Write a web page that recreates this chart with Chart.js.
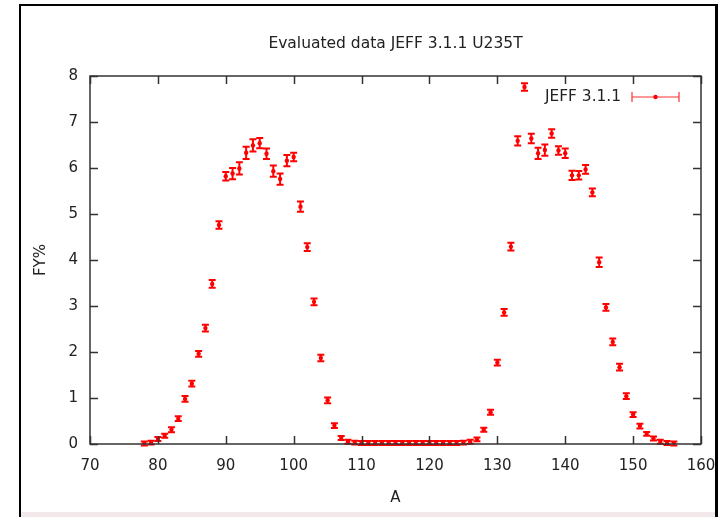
<!DOCTYPE html>
<html>
<head>
<meta charset="utf-8">
<script src="https://cdn.jsdelivr.net/npm/chart.js@4"></script>
<style>
  html, body { margin: 0; padding: 0; background: #ffffff; }
  #wrap { position: relative; width: 724px; height: 517px; overflow: hidden; }
  #frame { position: absolute; left: 19px; top: 4px; width: 694px; height: 520px;
           border-left: 2px solid #000; border-top: 2px solid #000; border-right: 3px solid #000; }
  #band { position: absolute; left: 21px; top: 512px; width: 694px; height: 6px; background: #f4e9ea; }
  canvas { position: absolute; left: 0; top: 0; }
</style>
</head>
<body>
<div id="wrap">
  <canvas id="c" width="724" height="517"></canvas>
  <div id="band"></div>
  <div id="frame"></div>
</div>
<script>
// Mass number A
const massNumbers = [78,79,80,81,82,83,84,85,86,87,88,89,90,91,92,93,94,95,96,97,98,99,100,101,102,103,104,105,106,107,108,109,110,111,112,113,114,115,116,117,118,119,120,121,122,123,124,125,126,127,128,129,130,131,132,133,134,135,136,137,138,139,140,141,142,143,144,145,146,147,148,149,150,151,152,153,154,155,156];
// Fission yield FY% (JEFF 3.1.1, U235 thermal)
const fissionYield = [0.01,0.03,0.11,0.18,0.31,0.55,0.98,1.31,1.96,2.52,3.48,4.76,5.82,5.88,5.99,6.33,6.49,6.54,6.31,5.93,5.76,6.16,6.24,5.16,4.28,3.09,1.87,0.95,0.40,0.13,0.05,0.03,0.02,0.02,0.02,0.02,0.02,0.02,0.02,0.02,0.02,0.02,0.02,0.02,0.02,0.02,0.02,0.03,0.05,0.10,0.31,0.69,1.77,2.86,4.29,6.59,7.76,6.64,6.32,6.39,6.75,6.38,6.32,5.84,5.84,5.97,5.47,3.95,2.97,2.22,1.67,1.04,0.64,0.39,0.22,0.12,0.05,0.02,0.01];
// Uncertainty (absolute, FY%)
const yieldError = [0.01,0.01,0.01,0.01,0.02,0.02,0.03,0.03,0.03,0.04,0.05,0.05,0.06,0.09,0.10,0.10,0.10,0.08,0.08,0.09,0.09,0.09,0.06,0.08,0.05,0.04,0.04,0.03,0.02,0.01,0.01,0.01,0.01,0.01,0.01,0.01,0.01,0.01,0.01,0.01,0.01,0.01,0.01,0.01,0.01,0.01,0.01,0.01,0.01,0.01,0.01,0.02,0.03,0.04,0.05,0.07,0.05,0.07,0.09,0.09,0.06,0.06,0.07,0.07,0.06,0.06,0.05,0.07,0.04,0.04,0.04,0.03,0.02,0.02,0.01,0.01,0.01,0.01,0.01];
const xTicks = [70,80,90,100,110,120,130,140,150,160];
const yTicks = [0,1,2,3,4,5,6,7,8];
const titleText = 'Evaluated data JEFF 3.1.1 U235T';
const legendText = 'JEFF 3.1.1';

const RED = '#ff0000';
const FONT = "'DejaVu Sans', sans-serif";

const points = massNumbers.map((a, i) => ({ x: a, y: fissionYield[i] }));

const errorBars = {
  id: 'errorBars',
  afterDatasetsDraw(chart) {
    const { ctx, scales: { x, y } } = chart;
    ctx.save();
    ctx.strokeStyle = RED;
    ctx.lineWidth = 2;
    massNumbers.forEach((a, i) => {
      const px = x.getPixelForValue(a);
      const top = y.getPixelForValue(fissionYield[i] + yieldError[i]) - 1.5;
      const bot = y.getPixelForValue(fissionYield[i] - yieldError[i]) + 1.5;
      ctx.beginPath();
      ctx.moveTo(px, top); ctx.lineTo(px, bot);
      ctx.moveTo(px - 3.5, top); ctx.lineTo(px + 3.5, top);
      ctx.moveTo(px - 3.5, bot); ctx.lineTo(px + 3.5, bot);
      ctx.stroke();
    });
    ctx.restore();
  }
};

const frameAndTicks = {
  id: 'frameAndTicks',
  afterDraw(chart) {
    const { ctx, chartArea: ca, scales: { x, y } } = chart;
    ctx.save();
    ctx.strokeStyle = '#333333';
    ctx.lineWidth = 1.5;
    ctx.strokeRect(ca.left, ca.top, ca.right - ca.left, ca.bottom - ca.top);
    ctx.beginPath();
    const L = 8;
    xTicks.forEach(v => {
      const px = Math.round(x.getPixelForValue(v)) + 0.5;
      ctx.moveTo(px, ca.bottom); ctx.lineTo(px, ca.bottom - L);
      ctx.moveTo(px, ca.top); ctx.lineTo(px, ca.top + L);
    });
    yTicks.forEach(v => {
      const py = Math.round(y.getPixelForValue(v)) + 0.5;
      ctx.moveTo(ca.left, py); ctx.lineTo(ca.left + L, py);
      ctx.moveTo(ca.right, py); ctx.lineTo(ca.right - L, py);
    });
    ctx.stroke();

    // legend
    const ly = 97;
    ctx.fillStyle = '#222222';
    ctx.font = "15.4px " + FONT;
    ctx.textAlign = 'right';
    ctx.textBaseline = 'middle';
    ctx.fillText(legendText, 621, ly);
    ctx.strokeStyle = '#ff3030';
    ctx.lineWidth = 1.2;
    ctx.beginPath();
    ctx.moveTo(632, ly); ctx.lineTo(679, ly);
    ctx.moveTo(632, ly - 5); ctx.lineTo(632, ly + 5);
    ctx.moveTo(679, ly - 5); ctx.lineTo(679, ly + 5);
    ctx.stroke();
    ctx.fillStyle = RED;
    ctx.beginPath();
    ctx.arc(655.5, ly, 2.2, 0, Math.PI * 2);
    ctx.fill();
    ctx.restore();
  }
};

new Chart(document.getElementById('c'), {
  type: 'scatter',
  data: {
    datasets: [{
      label: legendText,
      data: points,
      showLine: false,
      pointRadius: 2.2,
      pointHoverRadius: 2.2,
      pointBackgroundColor: RED,
      pointBorderColor: RED,
      pointBorderWidth: 0
    }]
  },
  options: {
    responsive: false,
    animation: false,
    events: [],
    layout: { padding: { left: 0, right: 23, top: 0, bottom: 0 } },
    plugins: {
      legend: { display: false },
      tooltip: { enabled: false },
      title: {
        display: true,
        text: titleText,
        fullSize: false,
        color: '#222222',
        font: { family: FONT, size: 15.5, weight: 'normal' },
        padding: { top: 35, bottom: 22.4 }
      }
    },
    scales: {
      x: {
        type: 'linear',
        min: 70, max: 160,
        afterBuildTicks(scale) { scale.ticks = xTicks.map(v => ({ value: v })); },
        afterFit(scale) { scale.height = 73; scale.paddingRight = 0; scale.paddingLeft = 0; },
        grid: { display: false, drawTicks: false },
        border: { display: false },
        ticks: { color: '#222222', padding: 13, font: { family: FONT, size: 15 } },
        title: { display: true, text: 'A', color: '#222222', font: { family: FONT, size: 15 }, padding: { top: 0, bottom: 10 } }
      },
      y: {
        type: 'linear',
        min: 0, max: 8,
        afterBuildTicks(scale) { scale.ticks = yTicks.map(v => ({ value: v })); },
        afterFit(scale) { scale.width = 90; },
        grid: { display: false, drawTicks: false },
        border: { display: false },
        ticks: { color: '#222222', padding: 12, font: { family: FONT, size: 15 } },
        title: { display: true, text: 'FY%', color: '#222222', font: { family: FONT, size: 15 }, padding: { top: 32, bottom: 0 } }
      }
    }
  },
  plugins: [errorBars, frameAndTicks]
});
</script>
</body>
</html>
